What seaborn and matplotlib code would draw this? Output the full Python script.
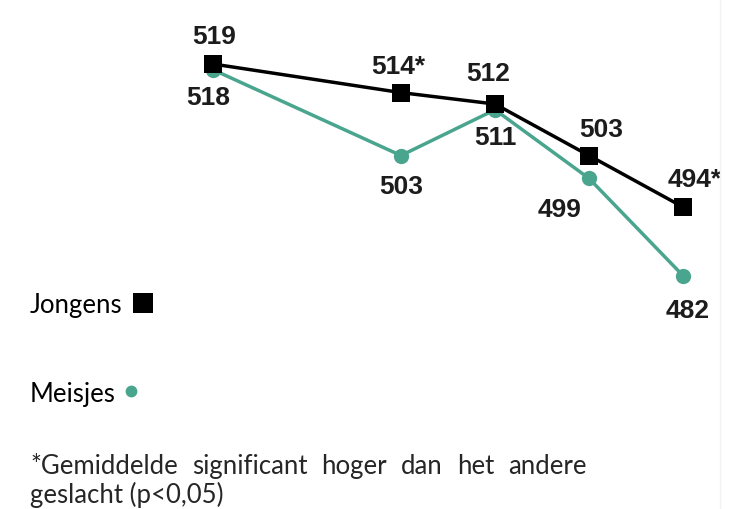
import pandas as pd
import seaborn as sns
import matplotlib.pyplot as plt
from matplotlib.lines import Line2D

# measurement points (spacing as in the picture: first gap is double)
meting = [0, 2, 3, 4, 5]
jongens = [519, 514, 512, 503, 494]
meisjes = [518, 503, 511, 499, 482]
jongens_sig = [False, True, False, False, True]
meisjes_sig = [False, False, False, False, False]

groen = "#4aa58e"

df = pd.DataFrame({
    "meting": meting * 2,
    "score": jongens + meisjes,
    "geslacht": ["Jongens"] * len(meting) + ["Meisjes"] * len(meting),
})

sns.set_style("white")
plt.rcParams["font.family"] = ["Liberation Sans", "DejaVu Sans"]

W, H = 752, 510
fig = plt.figure(figsize=(W / 100, H / 100), dpi=100)
ax = fig.add_axes([0, 0, 1, 1])

sns.lineplot(data=df, x="meting", y="score", hue="geslacht", style="geslacht",
             palette={"Jongens": "black", "Meisjes": groen},
             markers={"Jongens": "s", "Meisjes": "o"}, dashes=False,
             markersize=13, markeredgewidth=0, linewidth=2.5,
             legend=False, ax=ax, sort=False)
# black line on top, girls' dots a bit smaller
ax.lines[0].set_zorder(3)
ax.lines[1].set_zorder(2)
ax.lines[1].set_markersize(11)

# pixel mapping: x=0 -> 213px, 94px per unit; 519 -> 65px, 5.72px per point
ax.set_xlim(-213 / 94, -213 / 94 + W / 94)
ymax = 519 + 65 / 5.72
ax.set_ylim(ymax - H / 5.72, ymax)
ax.axis("off")

# label offsets in pixels (dx, dy with dy positive downwards)
off_j = [(1, -28), (-3, -27), (-7, -31), (12, -27), (12, -28)]
off_m = [(-5, 27), (0, 30), (0, 27), (-29, 31), (5, 34)]


def labels(vals, sig, offs):
    for x, v, s, (dx, dy) in zip(meting, vals, sig, offs):
        ax.annotate(f"{v}{'*' if s else ''}", (x, v),
                    xytext=(dx * 0.72, -dy * 0.72), textcoords="offset points",
                    ha="center", va="center", fontsize=19, fontweight="bold",
                    color="#1c1c1c")


labels(jongens, jongens_sig, off_j)
labels(meisjes, meisjes_sig, off_m)

lato = ["Lato", "DejaVu Sans"]
fs = 18.5
fig.text(30 / W, 1 - 313 / H, "Jongens", family=lato, fontsize=fs,
         va="baseline", ha="left", color="black")
fig.add_artist(Line2D([143 / W], [1 - 304 / H], marker="s", markersize=14,
                      color="black", markeredgewidth=0, transform=fig.transFigure))
fig.text(30 / W, 1 - 402 / H, "Meisjes", family=lato, fontsize=fs,
         va="baseline", ha="left", color="black")
fig.add_artist(Line2D([131 / W], [1 - 392 / H], marker="o", markersize=8.5,
                      color=groen, markeredgewidth=0, transform=fig.transFigure))

# justified first footnote line
woorden = "*Gemiddelde significant hoger dan het andere".split()
r = fig.canvas.get_renderer()
teksten = [fig.text(0, 1 - 474 / H, w, family=lato, fontsize=fs, va="baseline")
           for w in woorden]
breedtes = [t.get_window_extent(r).width for t in teksten]
links, rechts = 30, 587
gat = (rechts - links - sum(breedtes)) / (len(woorden) - 1)
x = links
for t, b in zip(teksten, breedtes):
    t.set_x(x / W)
    x += b + gat
fig.text(30 / W, 1 - 503 / H, "geslacht (p<0,05)", family=lato, fontsize=fs,
         va="baseline", ha="left")

# faint page edge on the right
fig.add_artist(Line2D([720 / W, 720 / W], [0, 1], color="#f3f3f3", lw=1,
                      transform=fig.transFigure))

fig.savefig("out.png", dpi=100, facecolor="white")
